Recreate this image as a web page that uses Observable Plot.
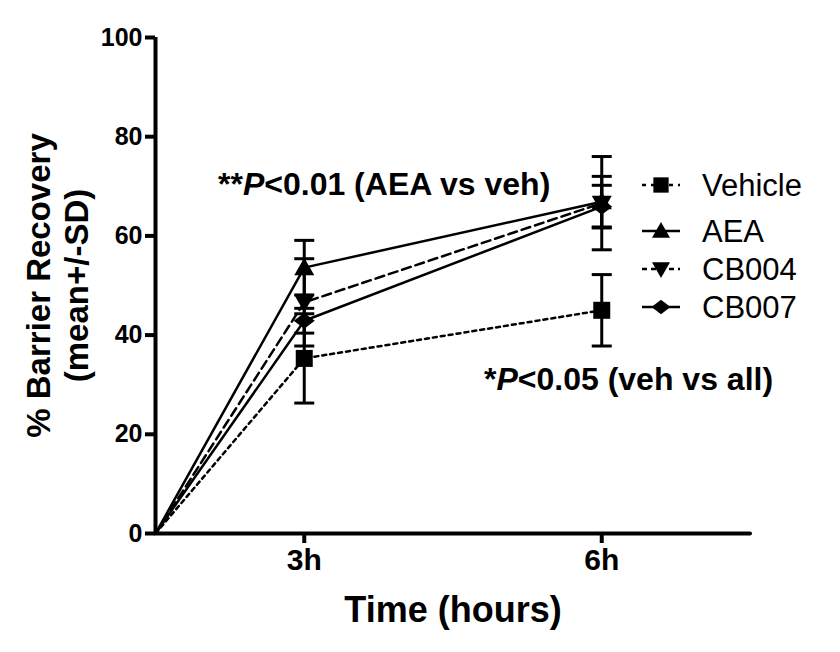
<!DOCTYPE html>
<html><head><meta charset="utf-8">
<script src="https://cdn.jsdelivr.net/npm/d3@7"></script>
<script src="https://cdn.jsdelivr.net/npm/@observablehq/plot@0.6"></script>
<style>
body{margin:0;background:#fff;}
#chart{position:relative;width:840px;height:652px;}
</style>
</head><body><div id="chart"></div>
<script>
// ---- data ----
const series = ["Vehicle", "AEA", "CB004", "CB007"];
const hours = [0, 3, 6];
const meanVehicle = [0, 35.3, 45.0];
const sdVehicle   = [0, 9.0, 7.2];
const meanAEA     = [0, 53.6, 66.9];
const sdAEA       = [0, 5.5, 5.1];
const meanCB004   = [0, 46.6, 66.6];
const sdCB004     = [0, 8.8, 9.4];
const meanCB007   = [0, 42.9, 65.9];
const sdCB007     = [0, 2.5, 4.3];
const yTicks = [0, 20, 40, 60, 80, 100];
const xTicks = [3, 6];
const xTickLabels = ["3h", "6h"];
const yLabel = "% Barrier Recovery\n(mean+/-SD)";
const xLabel = "Time (hours)";
const note1 = ["**", "P", "<0.01 (AEA vs veh)"];
const note2 = ["*", "P", "<0.05 (veh vs all)"];

const means = [meanVehicle, meanAEA, meanCB004, meanCB007];
const sds = [sdVehicle, sdAEA, sdCB004, sdCB007];
const rows = [];
series.forEach((s, i) => hours.forEach((h, j) => rows.push({series: s, hour: h, mean: means[i][j], sd: sds[i][j]})));

// GraphPad-style column axis: origin at half a column before the first time point
const xTransform = h => (h < 3 ? 0.5 + h / 6 : h / 3);

// ---- symbols ----
function shape(kind) {
  return {draw(ctx, size) {
    const r = Math.sqrt(size / Math.PI);
    if (kind === "square") {
      const h = r * 0.85;
      ctx.moveTo(-h, -h); ctx.lineTo(h, -h); ctx.lineTo(h, h); ctx.lineTo(-h, h); ctx.closePath();
    } else if (kind === "up") {
      ctx.moveTo(0, -r * 1.0); ctx.lineTo(r, r * 0.75); ctx.lineTo(-r, r * 0.75); ctx.closePath();
    } else if (kind === "down") {
      ctx.moveTo(0, r * 1.0); ctx.lineTo(r, -r * 0.75); ctx.lineTo(-r, -r * 0.75); ctx.closePath();
    } else if (kind === "diamond") {
      ctx.moveTo(0, -r * 0.8); ctx.lineTo(r * 1.05, 0); ctx.lineTo(0, r * 0.8); ctx.lineTo(-r * 1.05, 0); ctx.closePath();
    } else if (kind === "cap") {
      ctx.moveTo(-r, 0); ctx.lineTo(r, 0);
    }
  }};
}
const styles = {
  Vehicle: {symbol: shape("square"), dash: "4,4"},
  AEA:     {symbol: shape("up"), dash: null},
  CB004:   {symbol: shape("down"), dash: "9,5"},
  CB007:   {symbol: shape("diamond"), dash: null}
};
const capSym = shape("cap");
const bars = rows.filter(d => d.sd > 0);

const marks = [];
marks.push(Plot.ruleX(bars, {x: "hour", y1: d => d.mean - d.sd, y2: d => d.mean + d.sd, stroke: "black", strokeWidth: 3}));
marks.push(Plot.dot(bars, {x: "hour", y: d => d.mean + d.sd, symbol: capSym, r: 10, stroke: "black", fill: "none", strokeWidth: 3}));
marks.push(Plot.dot(bars, {x: "hour", y: d => d.mean - d.sd, symbol: capSym, r: 10, stroke: "black", fill: "none", strokeWidth: 3}));
for (const s of series) {
  const data = rows.filter(d => d.series === s);
  marks.push(Plot.line(data, {x: "hour", y: "mean", stroke: "black", strokeWidth: 2.5, strokeDasharray: styles[s].dash}));
}
for (const s of series) {
  const data = rows.filter(d => d.series === s && d.hour > 0);
  marks.push(Plot.dot(data, {x: "hour", y: "mean", symbol: styles[s].symbol, r: 10, fill: "black", stroke: "none"}));
}
marks.push(Plot.axisY({ticks: yTicks, tickSize: 10, tickPadding: 3, strokeWidth: 4, fontSize: 25, fontWeight: "bold", label: null}));
marks.push(Plot.axisX({ticks: xTicks.map(xTransform), tickFormat: (d, i) => xTickLabels[i], tickSize: 10, tickPadding: 5, strokeWidth: 4, fontSize: 30, fontWeight: "bold", label: null}));
marks.push(Plot.ruleX([0], {stroke: "black", strokeWidth: 4}));
marks.push(Plot.ruleY([0], {stroke: "black", strokeWidth: 4, strokeLinecap: "round"}));
marks.push(Plot.text([yLabel], {text: d => d, frameAnchor: "left", textAnchor: "middle", dx: -99, rotate: -90, fontSize: 33, fontWeight: "bold", lineHeight: 1.15, fill: "black"}));
marks.push(Plot.text([xLabel], {text: d => d, frameAnchor: "bottom", dy: 88, fontSize: 36, fontWeight: "bold", fill: "black"}));

const chart = Plot.plot({
  width: 840, height: 652,
  marginTop: 37, marginRight: 90, marginBottom: 119, marginLeft: 155,
  style: {fontFamily: "'Liberation Sans', Arial, sans-serif", background: "#fff", color: "black", overflow: "visible"},
  x: {transform: xTransform, domain: [0.5, 2.5]},
  y: {domain: [0, 100]},
  marks
});
document.getElementById("chart").appendChild(chart);

// ---- annotations & legend ----
const svg = d3.select(chart);
const FF = "'Liberation Sans', Arial, sans-serif";
function note(parts, x, y) {
  const t = svg.append("text").attr("x", x).attr("y", y).attr("text-anchor", "start")
    .attr("font-size", 32).attr("font-weight", "bold").attr("fill", "black").attr("font-family", FF);
  t.append("tspan").text(parts[0]);
  t.append("tspan").attr("font-style", "italic").text(parts[1]);
  t.append("tspan").text(parts[2]);
}
note(note1, 218, 195);
note(note2, 484, 390);

const legendY = [185, 231, 269, 307];
const lg = svg.append("g").attr("font-family", FF).attr("text-anchor", "start");
series.forEach((s, i) => {
  const g = lg.append("g").attr("transform", `translate(0,${legendY[i]})`);
  const line = g.append("line").attr("x1", 642).attr("x2", 680).attr("y1", 0).attr("y2", 0)
    .attr("stroke", "black").attr("stroke-width", 2.5);
  if (styles[s].dash) line.attr("stroke-dasharray", s === "Vehicle" ? "4,5" : "5,4");
  g.append("path").attr("transform", "translate(661,0)")
    .attr("d", d3.symbol(styles[s].symbol, Math.PI * 81)())
    .attr("fill", "black");
  g.append("text").attr("x", 702).attr("y", 11).attr("font-size", 31).attr("fill", "black").text(s);
});
</script>
</body></html>
